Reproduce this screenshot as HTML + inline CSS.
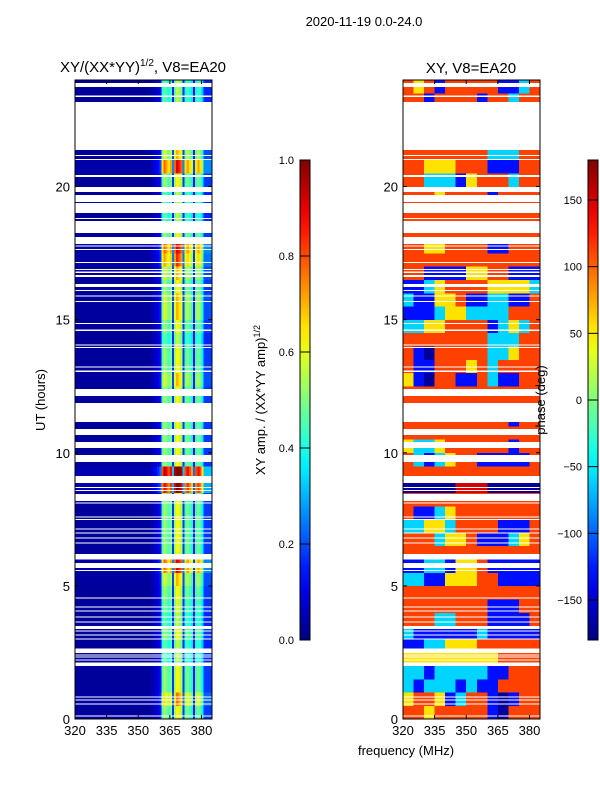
<!DOCTYPE html>
<html><head><meta charset="utf-8">
<style>
html,body{margin:0;padding:0;background:#fff;}
svg{display:block;font-family:"Liberation Sans","DejaVu Sans",sans-serif;}
</style></head>
<body>
<svg id="fig" width="600" height="800" viewBox="0 0 600 800" xmlns="http://www.w3.org/2000/svg">
<defs>
<linearGradient id="jetAmp" x1="0" y1="1" x2="0" y2="0"></linearGradient>
</defs>
<text x="364" y="26" font-size="13" text-anchor="middle">2020-11-19 0.0-24.0</text>
<text x="143" y="72" font-size="15" text-anchor="middle">XY/(XX*YY)<tspan font-size="10" dy="-6">1/2</tspan><tspan dy="6">, V8=EA20</tspan></text>
<text x="471" y="73" font-size="15" text-anchor="middle">XY, V8=EA20</text>
<g id="ampPanel"></g>
<g id="phasePanel"></g>
<g id="axes"></g>
<text x="406" y="755" font-size="13" text-anchor="middle">frequency (MHz)</text>
<text transform="translate(45,400) rotate(-90)" font-size="13" text-anchor="middle">UT (hours)</text>
<text transform="translate(265,400) rotate(-90)" font-size="13" text-anchor="middle">XY amp. / (XX*YY amp)<tspan font-size="9" dy="-5">1/2</tspan></text>
<text transform="translate(545,400) rotate(-90)" font-size="13" text-anchor="middle">phase (deg)</text>
</svg>
<script>
// ---- data ----
const freqMin = 320, freqMax = 385;
const hourMin = 0, hourMax = 24;
const xTicks = [320, 335, 350, 365, 380];
const yTicks = [0, 5, 10, 15, 20];
const ampTicks = [0.0, 0.2, 0.4, 0.6, 0.8, 1.0];
const phaseTicks = [-150, -100, -50, 0, 50, 100, 150];
// amplitude profile per 1 MHz channel, 320..384
const ampProfile = [0.03,0.03,0.03,0.03,0.03,0.03,0.03,0.03,0.03,0.03,0.03,0.03,0.03,0.03,0.03,0.03,0.03,0.03,0.03,0.03,0.03,0.03,0.03,0.03,0.03,0.03,0.03,0.03,0.03,0.03,0.03,0.03,0.03,0.03,0.03,0.03,
 0.05,0.06,0.08,0.1,0.15, 0.5,0.6,0.55,0.5,0.55, 0.2, 0.6,0.7,0.65,0.6, 0.2, 0.5,0.55,0.5,0.45, 0.15, 0.5,0.55,0.5,0.4, 0.2,0.2,0.2,0.2];
// amplitude gain per half-hour block, 0..24h
const ampRowGain = [0.9,1.1,0.9,0.9,0.8,0.8,0.9,0.8,0.85,0.9,1.0,1.3,0.9,0.9,0.9,0.9,0.9,1.5,1.6,0.9,0.9,0.9,0.9,0.9,
 0.9,1.0,0.9,0.9,0.8,0.9,1.0,1.0,0.9,1.0,1.2,1.3,0.9,0.8,0.8,0.8,0.9,1.3,1.0,0.9,0.9,0.9,0.8,0.8];
// phase per half-hour block (rows) x 5 MHz (columns); code letters -> degrees
const phaseCodes = {R:150, r:112, o:95, y:55, g:0, c:-60, b:-130, B:-170};
const phaseRows = [
 "rryrrrrrbBrrr","yrrybcrrbBbrr","cbcccbcbbrrrr","ccbcccccbbrrr","yyyyyyyyyrrrr","bbccyyyrrrrrr",
 "cbbbbbbcbbbbb","rrrccrrrbbbbr","rrrrrrrrbbbrr","rrrrrrrrrrrrr","ccbbyyyrrbbbb","bbccbyyrbbbbb",
 "rrrrrrrrrrrrr","rrrcyyrbbbcyr","ccyycrrrrbbbr","rbbcyrrrrrrrr","rrrrrrrrrrrrr","BBBBBRRRBBBBB",
 "rrrrrrrrrrrrr","rcbcyrrbbbbbr","yccyrrrrrrbrr","rrrrrrrrrrrrr","rrrrrrrrrrbrr","rrrrrrrrrrrrr",
 "rrrrrrrrrrrrr","ybBrrbbrcbbrr","rbbrrryrcrrrr","rbBrrrrrccyrr","rrrrrrrrcccrr","ccyyrrrrbcycr",
 "bbbcyyccccrrr","cbbyyrbbccbbr","bbcyrrrryyyyc","rrbbbbyyrrbbb","rrrrrrrrrrrrr","rryyrrrrbbrrr",
 "rrrrrrrrrrrrr","rrrrrrrrrrrrr","rrrrrrrrrrrrr","rrryrrrrbrrrr","rrcccbyrrrcrr","rryyyrrrbbbrr",
 "rrrrrrrrcccrr","rrrrrrrrrrrrr","rrrrrrrrrrrrr","rrrrrrrrrrrrr","rrbrrrrbrrcrr","ryrbrrrrrbbcr"];
// flagged (blank) time ranges in hours [start, end]
const gapStarts = [23.73,23.36,21.37,21.14,21.0,20.35,19.79,19.41,19.0,18.78,18.25,17.84,17.74,17.62,17.13,16.86,16.76,16.6,16.22,16.08,15.86,15.66,14.84,14.58,14.02,13.94,13.2,13.04,12.13,11.15,10.66,10.18,9.65,8.86,8.68,8.56,8.19,8.09,7.56,7.48,7.11,6.96,6.77,6.59,6.0,5.67,5.56,4.52,4.18,4.03,3.81,3.62,3.38,3.28,3.13,2.98,2.48,2.38,2.31,2.19,1.99,0.8,0.69,0.54,0.09];
const gapEnds   = [23.88,23.42,23.17,21.18,21.04,20.43,19.98,19.68,19.38,18.82,18.7,18.1,17.78,17.66,17.17,16.9,16.8,16.68,16.34,16.12,15.9,15.7,14.88,14.62,14.06,13.98,13.24,13.08,12.4,11.87,10.9,10.4,9.91,9.12,8.72,8.6,8.45,8.13,7.6,7.52,7.15,7.0,6.81,6.63,6.2,5.86,5.6,4.56,4.22,4.07,3.85,3.66,3.5,3.32,3.17,3.02,2.65,2.42,2.35,2.23,2.12,0.84,0.73,0.58,0.13];

// ---- helpers ----
const NS = "http://www.w3.org/2000/svg";
const L = {x0:75, x1:212}, R = {x0:403, x1:540};
const Y0 = 719, Y1 = 80;
function yOf(h){ return Y0 - (h - hourMin) / (hourMax - hourMin) * (Y0 - Y1); }
function xOf(p, f){ return p.x0 + (f - freqMin) / (freqMax - freqMin) * (p.x1 - p.x0); }
function clamp(v){ return Math.max(0, Math.min(1, v)); }
function jet(v){
  v = clamp(v);
  const r = clamp(1.5 - Math.abs(4*v - 3)), g = clamp(1.5 - Math.abs(4*v - 2)), b = clamp(1.5 - Math.abs(4*v - 1));
  return "rgb(" + Math.round(r*255) + "," + Math.round(g*255) + "," + Math.round(b*255) + ")";
}
function mk(tag, attrs, parent){
  const e = document.createElementNS(NS, tag);
  for (const k in attrs) e.setAttribute(k, attrs[k]);
  parent.appendChild(e);
  return e;
}
const ampG = document.getElementById("ampPanel");
const phG = document.getElementById("phasePanel");
const axG = document.getElementById("axes");
const nBlocks = ampRowGain.length;
const blockH = (hourMax - hourMin) / nBlocks;

// amplitude cells
for (let i = 0; i < nBlocks; i++){
  const ya = yOf(hourMin + (i+1)*blockH), yb = yOf(hourMin + i*blockH);
  for (let j = 0; j < ampProfile.length; j++){
    const fa = freqMin + j, fb = Math.min(freqMax, fa + 1);
    const c = mk("rect", {x: xOf(L, fa).toFixed(2), y: ya.toFixed(2), width: (xOf(L, fb) - xOf(L, fa) + 0.3).toFixed(2), height: (yb - ya + 0.3).toFixed(2), fill: jet(ampProfile[j] * ampRowGain[i]), "shape-rendering":"crispEdges"}, ampG);
    
    
  }
}
// phase cells
for (let i = 0; i < phaseRows.length; i++){
  const ya = yOf(hourMin + (i+1)*blockH), yb = yOf(hourMin + i*blockH);
  const row = phaseRows[i];
  for (let j = 0; j < row.length; j++){
    const fa = freqMin + j*5, fb = Math.min(freqMax, fa + 5);
    const deg = phaseCodes[row[j]];
    const c = mk("rect", {x: xOf(R, fa).toFixed(2), y: ya.toFixed(2), width: (xOf(R, fb) - xOf(R, fa) + 0.3).toFixed(2), height: (yb - ya + 0.3).toFixed(2), fill: jet((deg + 180) / 360), "shape-rendering":"crispEdges"}, phG);
    
    
  }
}
// gaps
[L, R].forEach(function(p){
  for (let k = 0; k < gapStarts.length; k++){
    const ya = yOf(gapEnds[k]), yb = yOf(gapStarts[k]);
    const g = mk("rect", {x: p.x0, y: ya.toFixed(2), width: p.x1 - p.x0, height: Math.max(1, yb - ya).toFixed(2), fill: "#fff", "shape-rendering":"crispEdges"}, axG);
    
    
  }
});
// axes frames & ticks
[L, R].forEach(function(p, idx){
  const f = mk("rect", {x: p.x0, y: Y1, width: p.x1 - p.x0, height: Y0 - Y1, fill: "none", stroke: "#000", "stroke-width": 1}, axG);
  
  
  xTicks.forEach(function(t){
    const x = xOf(p, t);
    mk("line", {x1:x, x2:x, y1:Y0, y2:Y0-4, stroke:"#000"}, axG);
    mk("line", {x1:x, x2:x, y1:Y1, y2:Y1+4, stroke:"#000"}, axG);
    const tx = mk("text", {x:x, y:Y0+16, "font-size":13, "text-anchor":"middle"}, axG);
    tx.textContent = t;
    
    
  });
  yTicks.forEach(function(t){
    const y = yOf(t);
    mk("line", {x1:p.x0, x2:p.x0+4, y1:y, y2:y, stroke:"#000"}, axG);
    mk("line", {x1:p.x1, x2:p.x1-4, y1:y, y2:y, stroke:"#000"}, axG);
    const ty = mk("text", {x:p.x0-5, y:y+5, "font-size":13, "text-anchor":"end"}, axG);
    ty.textContent = t;
    
    
  });
});
// colorbars
const grad = document.getElementById("jetAmp");
for (let s = 0; s <= 20; s++){
  mk("stop", {offset: (s/20), "stop-color": jet(s/20)}, grad);
}
const CB = {y0:640, y1:160};
function cbar(x, ticks, vmin, vmax, name, fmt){
  const r = mk("rect", {x:x, y:CB.y1, width:10, height:CB.y0-CB.y1, fill:"url(#jetAmp)", stroke:"#000", "stroke-width":1}, axG);
  
  
  ticks.forEach(function(t){
    const y = CB.y0 - (t - vmin)/(vmax - vmin)*(CB.y0 - CB.y1);
    mk("line", {x1:x, x2:x+10, y1:y, y2:y, stroke:"#000"}, axG);
    const tl = mk("text", {x:x-6, y:y+4, "font-size":11, "text-anchor":"end"}, axG);
    tl.textContent = fmt(t);
    
    
  });
}
cbar(300, ampTicks, 0, 1, "amp-colorbar", function(t){ return t.toFixed(1); });
cbar(588, phaseTicks, -180, 180, "phase-colorbar", function(t){ return t < 0 ? "\u2212" + (-t) : String(t); });
</script>
</body></html>
